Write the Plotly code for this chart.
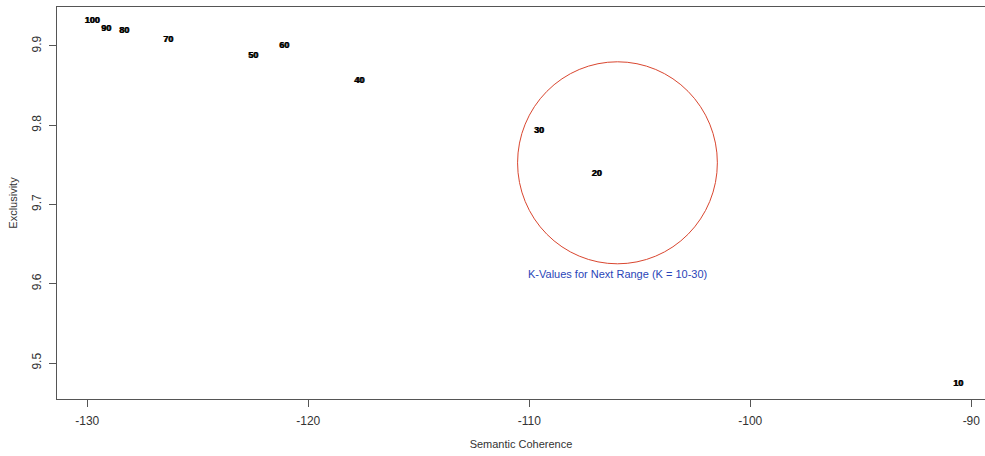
import plotly.graph_objects as go

# Topic-model diagnostics: semantic coherence vs exclusivity for each K
k_values = ["100", "90", "80", "70", "50", "60", "40", "30", "20", "10"]
semantic_coherence = [-129.79, -129.15, -128.34, -126.35, -122.5, -121.1, -117.7, -109.57, -106.96, -90.6]
exclusivity = [9.9315, 9.921, 9.919, 9.9076, 9.887, 9.900, 9.856, 9.793, 9.739, 9.474]

x_ticks = [-130, -120, -110, -100, -90]
y_ticks = [9.5, 9.6, 9.7, 9.8, 9.9]

# highlighted region (centre and radii in data units)
circle_center = (-106.01, 9.7525)
circle_radius = (4.52, 0.1274)
circle_note = "K-Values for Next Range (K = 10-30)"

font_family = "Liberation Sans, Arial, sans-serif"
axis_color = "#555555"

fig = go.Figure()

# labels drawn twice with a tiny offset give the heavy overprinted look
for dx in (0.0, 0.035):
    fig.add_trace(go.Scatter(
        x=[v + dx for v in semantic_coherence],
        y=exclusivity,
        mode="text",
        text=k_values,
        textfont=dict(family=font_family, size=9, color="#000000", weight="bold"),
        hoverinfo="skip",
        showlegend=False,
    ))

cx, cy = circle_center
rx, ry = circle_radius
fig.add_shape(
    type="circle", xref="x", yref="y",
    x0=cx - rx, x1=cx + rx, y0=cy - ry, y1=cy + ry,
    line=dict(color="#d9462f", width=1),
)
fig.add_annotation(
    x=cx, y=cy - ry, xref="x", yref="y",
    text=circle_note, showarrow=False,
    yanchor="top", yshift=-2,
    font=dict(family=font_family, size=11, color="#2a45b8"),
)

fig.update_layout(
    width=985, height=456,
    margin=dict(l=57, r=0, t=7, b=57),
    paper_bgcolor="white", plot_bgcolor="white",
    font=dict(family=font_family, size=11, color="#333333"),
    xaxis=dict(
        range=[-131.37, -89.38],
        tickvals=x_ticks,
        ticktext=[str(v) for v in x_ticks],
        ticks="outside", ticklen=7, tickcolor=axis_color,
        showline=True, linecolor=axis_color, linewidth=1, mirror=True,
        showgrid=False, zeroline=False,
        ticklabelstandoff=4,
        tickfont=dict(size=12),
        title=dict(text="Semantic Coherence", font=dict(size=11, color="#333333"), standoff=12),
    ),
    yaxis=dict(
        range=[9.4546, 9.949],
        tickvals=y_ticks,
        ticktext=[f"{v:.1f}" for v in y_ticks],
        tickangle=-90,
        ticks="outside", ticklen=7, tickcolor=axis_color,
        showline=True, linecolor=axis_color, linewidth=1,
        showgrid=False, zeroline=False,
        ticklabelstandoff=3,
        tickfont=dict(size=12),
        title=dict(text="Exclusivity", font=dict(size=11, color="#333333"), standoff=10),
    ),
)

fig.write_html("out.html")
